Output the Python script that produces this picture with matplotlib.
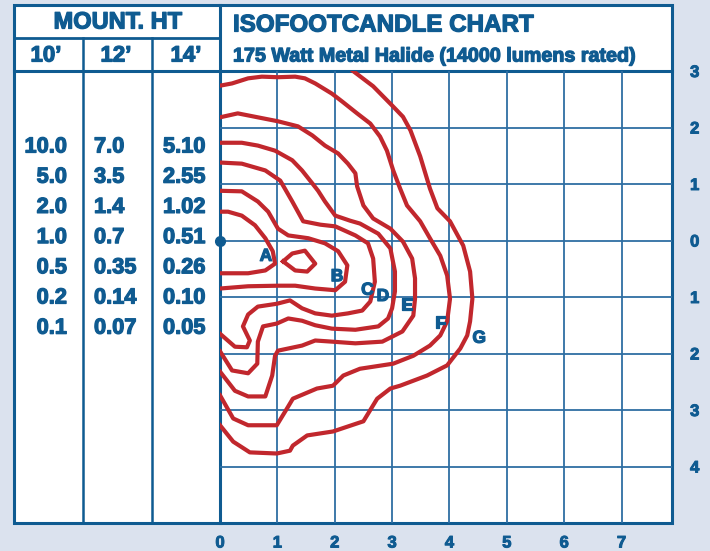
import matplotlib.pyplot as plt
import matplotlib.patheffects as pe
from matplotlib.patches import Rectangle

# table data
mount_heights = ["10\u2019", "12\u2019", "14\u2019"]
fc_10ft = ["10.0", "5.0", "2.0", "1.0", "0.5", "0.2", "0.1"]
fc_12ft = ["7.0", "3.5", "1.4", "0.7", "0.35", "0.14", "0.07"]
fc_14ft = ["5.10", "2.55", "1.02", "0.51", "0.26", "0.10", "0.05"]

# isofootcandle curves (x, y in mounting heights)
a_x = [0, 0.14, 0.38, 0.61, 0.79, 0.92, 0.96, 0.79, 0.49, 0]
a_y = [0.51, 0.51, 0.44, 0.27, 0.04, -0.19, -0.41, -0.53, -0.58, -0.58]
a_loop_x = [1.10, 1.26, 1.48, 1.66, 1.52, 1.31, 1.10]
a_loop_y = [-0.37, -0.23, -0.18, -0.41, -0.55, -0.53, -0.37]
b_x = [0, 0.38, 0.66, 0.84, 1.01, 1.19, 1.54, 1.83, 2.06, 2.22, 2.18, 2.01,
       1.66, 1.31, 1.01, 0.49, 0]
b_y = [0.88, 0.87, 0.69, 0.51, 0.21, 0.09, 0.04, -0.05, -0.19, -0.44, -0.73,
       -0.88, -0.85, -0.80, -0.80, -0.81, -0.85]
c_x = [0, 0.38, 0.79, 1.05, 1.13, 1.26, 1.45, 1.75, 2.01, 2.36, 2.58, 2.67,
       2.70, 2.62, 2.48, 2.23, 1.95, 1.66, 1.43, 1.22, 0.99, 0.66, 0.49, 0.40,
       0.52, 0.47, 0.26, 0]
c_y = [1.38, 1.36, 1.24, 1.06, 0.92, 0.69, 0.34, 0.28, 0.25, 0.09, -0.05,
       -0.32, -0.73, -1.08, -1.24, -1.29, -1.33, -1.29, -1.20, -1.06, -1.12,
       -1.17, -1.31, -1.52, -1.77, -1.89, -1.88, -1.65]
d_x = [0, 0.38, 0.66, 0.96, 1.26, 1.43, 1.61, 1.71, 1.83, 2.01, 2.27, 2.44,
       2.76, 2.97, 3.05, 3.05, 3.00, 2.93, 2.76, 2.36, 1.95, 1.66, 1.43, 1.19,
       0.99, 0.75, 0.66, 0.65, 0.49, 0.21, 0]
d_y = [1.73, 1.73, 1.68, 1.59, 1.42, 1.24, 1.01, 0.88, 0.69, 0.44, 0.35, 0.30,
       0.12, -0.14, -0.55, -0.90, -1.20, -1.38, -1.52, -1.58, -1.56, -1.50,
       -1.42, -1.38, -1.47, -1.52, -1.79, -2.18, -2.35, -2.30, -1.96]
e_x = [0, 0.31, 0.61, 1.01, 1.36, 1.61, 1.83, 2.06, 2.23, 2.36, 2.39, 2.50,
       2.67, 2.97, 3.19, 3.35, 3.40, 3.40, 3.37, 3.18, 2.83, 2.36, 1.95, 1.66,
       1.43, 1.01, 0.96, 0.91, 0.79, 0.49, 0.26, 0]
e_y = [2.18, 2.25, 2.19, 2.11, 2.02, 1.86, 1.68, 1.54, 1.36, 1.19, 0.96, 0.62,
       0.39, 0.21, -0.02, -0.32, -0.67, -1.03, -1.33, -1.61, -1.79, -1.82,
       -1.79, -1.77, -1.86, -1.95, -2.04, -2.39, -2.76, -2.76, -2.66, -2.32]
f_x = [0, 0.21, 0.49, 0.73, 1.01, 1.31, 1.48, 1.66, 1.95, 2.13, 2.39, 2.62,
       2.79, 2.91, 3.02, 3.14, 3.26, 3.49, 3.66, 3.84, 3.96, 4.01, 3.96, 3.84,
       3.66, 3.37, 3.02, 2.44, 2.15, 1.97, 1.69, 1.27, 1.17, 0.99, 0.49, 0.23, 0]
f_y = [2.74, 2.78, 2.87, 2.90, 2.89, 2.90, 2.87, 2.78, 2.60, 2.46, 2.25, 2.07,
       1.84, 1.59, 1.24, 0.92, 0.62, 0.34, 0.04, -0.27, -0.62, -1.03, -1.43,
       -1.68, -1.86, -2.04, -2.18, -2.27, -2.39, -2.57, -2.62, -2.80, -2.97,
       -3.27, -3.27, -3.15, -2.74]
g_x = [2.32, 2.67, 3.00, 3.19, 3.32, 3.49, 3.66, 3.79, 4.01, 4.24, 4.36, 4.40,
       4.36, 4.31, 4.19, 3.96, 3.61, 3.14, 2.97, 2.74, 2.50, 1.97, 1.52, 1.27,
       1.22, 0.99, 0.52, 0.23, 0]
g_y = [3.0, 2.73, 2.39, 2.19, 1.95, 1.49, 0.92, 0.57, 0.34, -0.09, -0.55,
       -1.03, -1.43, -1.68, -1.91, -2.21, -2.39, -2.57, -2.62, -2.80, -3.20,
       -3.38, -3.45, -3.63, -3.72, -3.77, -3.75, -3.56, -3.27]

curve_labels = ["A", "B", "C", "D", "E", "F", "G"]
label_x = [0.80, 2.04, 2.57, 2.84, 3.26, 3.84, 4.52]
label_y = [-0.28, -0.64, -0.88, -0.99, -1.15, -1.47, -1.73]

x_ticks = [0, 1, 2, 3, 4, 5, 6, 7]
y_ticks = [3, 2, 1, 0, -1, -2, -3, -4]
y_tick_labels = ["3", "2", "1", "0", "1", "2", "3", "4"]

blue = "#0f5b91"
grid_blue = "#2f6ea3"
red = "#c1272d"
plt.rcParams["font.family"] = ["Liberation Sans", "DejaVu Sans"]
heavy = [pe.withStroke(linewidth=0.9, foreground=blue)]

fig = plt.figure(figsize=(7.1, 5.51), dpi=100, facecolor="#dbe2ee")

# frame and table drawn in pixel coordinates
bg = fig.add_axes([0, 0, 1, 1])
bg.set_xlim(0, 710)
bg.set_ylim(551, 0)
bg.axis("off")
bg.add_patch(Rectangle((14, 5), 658, 518, facecolor="white", edgecolor=blue, lw=2.2))
bg.plot([14, 220], [38, 38], color=blue, lw=2)
bg.plot([14, 672], [71, 71], color=blue, lw=2.2)
for xv in [83, 152]:
    bg.plot([xv, xv], [38, 523], color=blue, lw=1.8)
bg.plot([220, 220], [5, 523], color=blue, lw=2.2)

bg.text(118, 22, "MOUNT. HT", ha="center", va="center", fontsize=17,
        fontweight="bold", color=blue, path_effects=heavy)
for cx, h in zip([46, 116, 186], mount_heights):
    bg.text(cx, 56, h, ha="center", va="center", fontsize=16, fontweight="bold",
            color=blue, path_effects=heavy)
bg.text(233, 25, "ISOFOOTCANDLE CHART", ha="left", va="center", fontsize=17.4,
        fontweight="bold", color=blue, path_effects=heavy)
bg.text(233, 56, "175 Watt Metal Halide (14000 lumens rated)", ha="left", va="center",
        fontsize=14.2, fontweight="bold", color=blue, path_effects=heavy)

for i in range(len(fc_10ft)):
    ry = 147 + i * 30.2
    bg.text(67, ry, fc_10ft[i], ha="right", va="center", fontsize=15.7,
            fontweight="bold", color=blue, path_effects=heavy)
    bg.text(94, ry, fc_12ft[i], ha="left", va="center", fontsize=15.7,
            fontweight="bold", color=blue, path_effects=heavy)
    bg.text(163, ry, fc_14ft[i], ha="left", va="center", fontsize=15.7,
            fontweight="bold", color=blue, path_effects=heavy)

# isofootcandle grid
ax = fig.add_axes([220 / 710, (551 - 523) / 551, (672 - 220) / 710, (523 - 71) / 551])
ax.set_xlim(0, 7.88)
ax.set_ylim(-5, 3)
ax.set_facecolor("none")
for s in ax.spines.values():
    s.set_visible(False)
for xv in x_ticks[1:]:
    ax.axvline(xv, color=grid_blue, lw=1.3, zorder=1)
for yv in y_ticks[1:]:
    ax.axhline(yv, color=grid_blue, lw=1.3, zorder=1)

for xs, ys in [(a_x, a_y), (a_loop_x, a_loop_y), (b_x, b_y), (c_x, c_y), (d_x, d_y),
               (e_x, e_y), (f_x, f_y), (g_x, g_y)]:
    ax.plot(xs, ys, color=red, lw=3, solid_joinstyle="round", zorder=2)

for lab, lx, ly in zip(curve_labels, label_x, label_y):
    ax.text(lx, ly, lab, ha="center", va="center", fontsize=12.5, fontweight="bold",
            color=blue, zorder=3, path_effects=heavy)

ax.plot(0, 0, "o", ms=7, color=blue, clip_on=False, zorder=4)

ax.set_xticks(x_ticks)
ax.set_xticklabels([str(v) for v in x_ticks])
ax.yaxis.tick_right()
ax.set_yticks(y_ticks)
ax.set_yticklabels(y_tick_labels)
ax.tick_params(length=0, labelsize=12, labelcolor=blue)
ax.tick_params(axis="x", pad=9)
ax.tick_params(axis="y", pad=13)
for t in ax.get_xticklabels() + ax.get_yticklabels():
    t.set_fontweight("bold")
    t.set_path_effects([pe.withStroke(linewidth=0.7, foreground=blue)])

fig.savefig("out.png", dpi=100, facecolor=fig.get_facecolor())
